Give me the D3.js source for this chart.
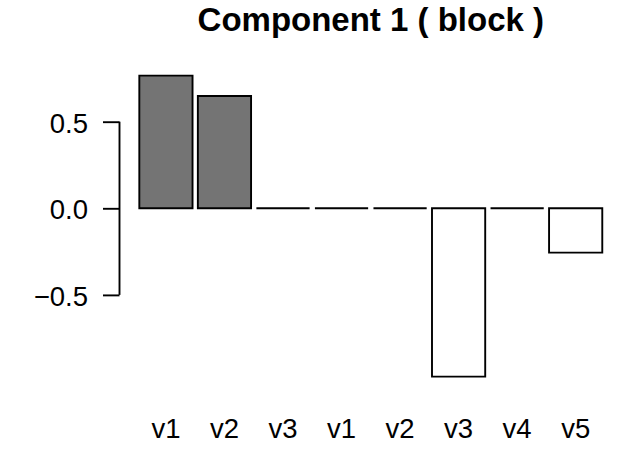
<!DOCTYPE html>
<html>
<head>
<meta charset="utf-8">
<script src="https://cdn.jsdelivr.net/npm/d3@7"></script>
<style>
  html, body { margin: 0; padding: 0; background: #fff; }
  svg { display: block; }
  text { font-family: "Liberation Sans", Arial, sans-serif; fill: #000; }
</style>
</head>
<body>
<svg id="chart" width="636" height="469"></svg>
<script>
const title = "Component 1 ( block )";
const labels = ["v1", "v2", "v3", "v1", "v2", "v3", "v4", "v5"];
const values = [0.766, 0.648, 0, 0, 0, -0.972, 0, -0.256];
const blocks = [1, 1, 1, 2, 2, 2, 2, 2];
const blockFill = { 1: "#747474", 2: "#ffffff" };
const yTicks = [-0.5, 0, 0.5];
const yTickLabels = ["\u22120.5", "0.0", "0.5"];

const svg = d3.select("#chart");

// bar geometry (R barplot: width 1, space 0.1)
const barW = 1, space = 0.1;
const x = d3.scaleLinear().domain([0, labels.length * (barW + space) + space]).range([134.0, 607.6]);
const y = d3.scaleLinear().domain([-0.5, 0.5]).range([294.9, 121.7]);

const bars = values.map((v, i) => ({
  v, label: labels[i], block: blocks[i],
  x0: space + i * (barW + space),
  x1: space + i * (barW + space) + barW
}));

svg.append("g").selectAll("path")
  .data(bars)
  .enter().append("path")
  .attr("d", d => {
    const a = x(d.x0), b = x(d.x1), y0 = y(0), y1 = y(d.v);
    return `M${a},${y0}H${b}V${y1}H${a}Z`;
  })
  .attr("fill", d => blockFill[d.block])
  .attr("stroke", "#000")
  .attr("stroke-width", 1.9);

// y axis
const yAxis = d3.axisLeft(y)
  .tickValues(yTicks)
  .tickFormat((d, i) => yTickLabels[i])
  .tickSize(16.5)
  .tickPadding(15)
  .tickSizeOuter(0);
const gy = svg.append("g").attr("transform", "translate(119.5,0)").call(yAxis);
gy.select(".domain").attr("stroke", "#000").attr("stroke-width", 1.9)
  .attr("d", `M0,${y(0.5)}V${y(-0.5)}`);
gy.selectAll(".tick line").attr("stroke", "#000").attr("stroke-width", 1.9);
gy.selectAll(".tick text")
  .attr("dy", "0.38em")
  .style("font-family", '"Liberation Sans", Arial, sans-serif')
  .style("font-size", "27.5px")
  .attr("fill", "#000");

// x labels
svg.append("g").selectAll("text")
  .data(bars)
  .enter().append("text")
  .attr("x", d => x((d.x0 + d.x1) / 2))
  .attr("y", 437.5)
  .attr("text-anchor", "middle")
  .style("font-size", "27.5px")
  .text(d => d.label);

// title
svg.append("text")
  .attr("x", (x.range()[0] + x.range()[1]) / 2)
  .attr("y", 31)
  .attr("text-anchor", "middle")
  .style("font-size", "33px")
  .style("font-weight", "bold")
  .text(title);
</script>
</body>
</html>
